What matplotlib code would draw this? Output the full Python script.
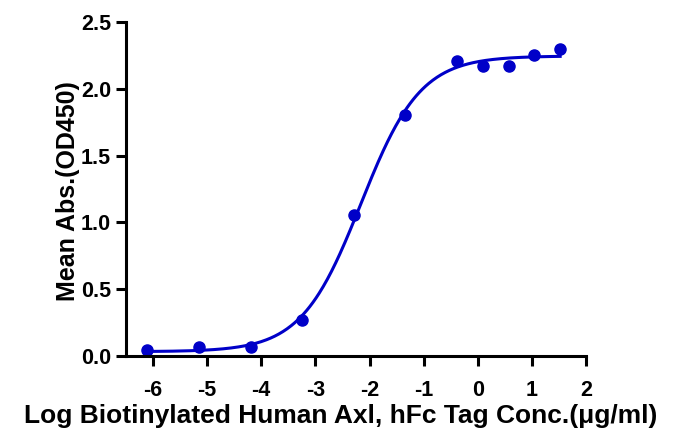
import numpy as np
import matplotlib
matplotlib.use("Agg")
import matplotlib.pyplot as plt

plt.rcParams['font.family'] = ['Liberation Sans', 'DejaVu Sans']
plt.rcParams['font.weight'] = 'bold'
plt.rcParams['axes.labelweight'] = 'bold'
plt.rcParams['axes.unicode_minus'] = False

# log10 concentration (ug/ml) and mean OD450
log_conc = [-6.10, -5.15, -4.19, -3.24, -2.28, -1.34, -0.38, 0.10, 0.57, 1.04, 1.52]
mean_abs = [0.045, 0.067, 0.07, 0.27, 1.055, 1.80, 2.21, 2.17, 2.17, 2.25, 2.30]

x_ticks = [-6, -5, -4, -3, -2, -1, 0, 1, 2]
y_ticks = [0.0, 0.5, 1.0, 1.5, 2.0, 2.5]
blue = '#0000c8'


def four_pl(x, bottom, top, logec50, hill):
    return bottom + (top - bottom) / (1 + 10 ** (hill * (logec50 - x)))


# 4PL fit: grid over logEC50/hill, bottom and top by linear least squares
xd = np.array(log_conc)
yd = np.array(mean_abs)
best = None
for e in np.arange(-3.0, -1.5, 0.005):
    for h in np.arange(0.5, 1.6, 0.005):
        f = 1 / (1 + 10 ** (h * (e - xd)))
        A = np.column_stack([np.ones_like(f), f])
        coef, *_ = np.linalg.lstsq(A, yd, rcond=None)
        err = np.sum((A @ coef - yd) ** 2)
        if best is None or err < best[0]:
            best = (err, coef[0], coef[0] + coef[1], e, h)
_, bottom, top, logec50, hill = best

xs = np.linspace(min(log_conc), max(log_conc), 400)

fig = plt.figure(figsize=(6.8, 4.37), dpi=100)
ax = fig.add_axes([0.185, 0.185, 0.677, 0.765])
ax.plot(xs, four_pl(xs, bottom, top, logec50, hill), color=blue, lw=2.2)
ax.plot(log_conc, mean_abs, 'o', color=blue, ms=8)

ax.set_xlim(-6.5, 2)
ax.set_ylim(0, 2.5)
ax.set_xticks(x_ticks)
ax.set_yticks(y_ticks)
ax.set_yticklabels(['%.1f' % v for v in y_ticks])
for s in ['top', 'right']:
    ax.spines[s].set_visible(False)
for s in ['left', 'bottom']:
    ax.spines[s].set_linewidth(2.2)
ax.tick_params(width=2.2, length=7, labelsize=15.5)
ax.tick_params(axis='x', pad=10)
ax.tick_params(axis='y', pad=3.5)

ax.set_xlabel('Log Biotinylated Human Axl, hFc Tag Conc.(\u03bcg/ml)', fontsize=19, va='baseline')
ax.xaxis.set_label_coords(0.467, -0.2)
ax.set_ylabel('Mean Abs.(OD450)', fontsize=18, va='center')
ax.yaxis.set_label_coords(-0.126, 0.494)

fig.savefig('out.png')
